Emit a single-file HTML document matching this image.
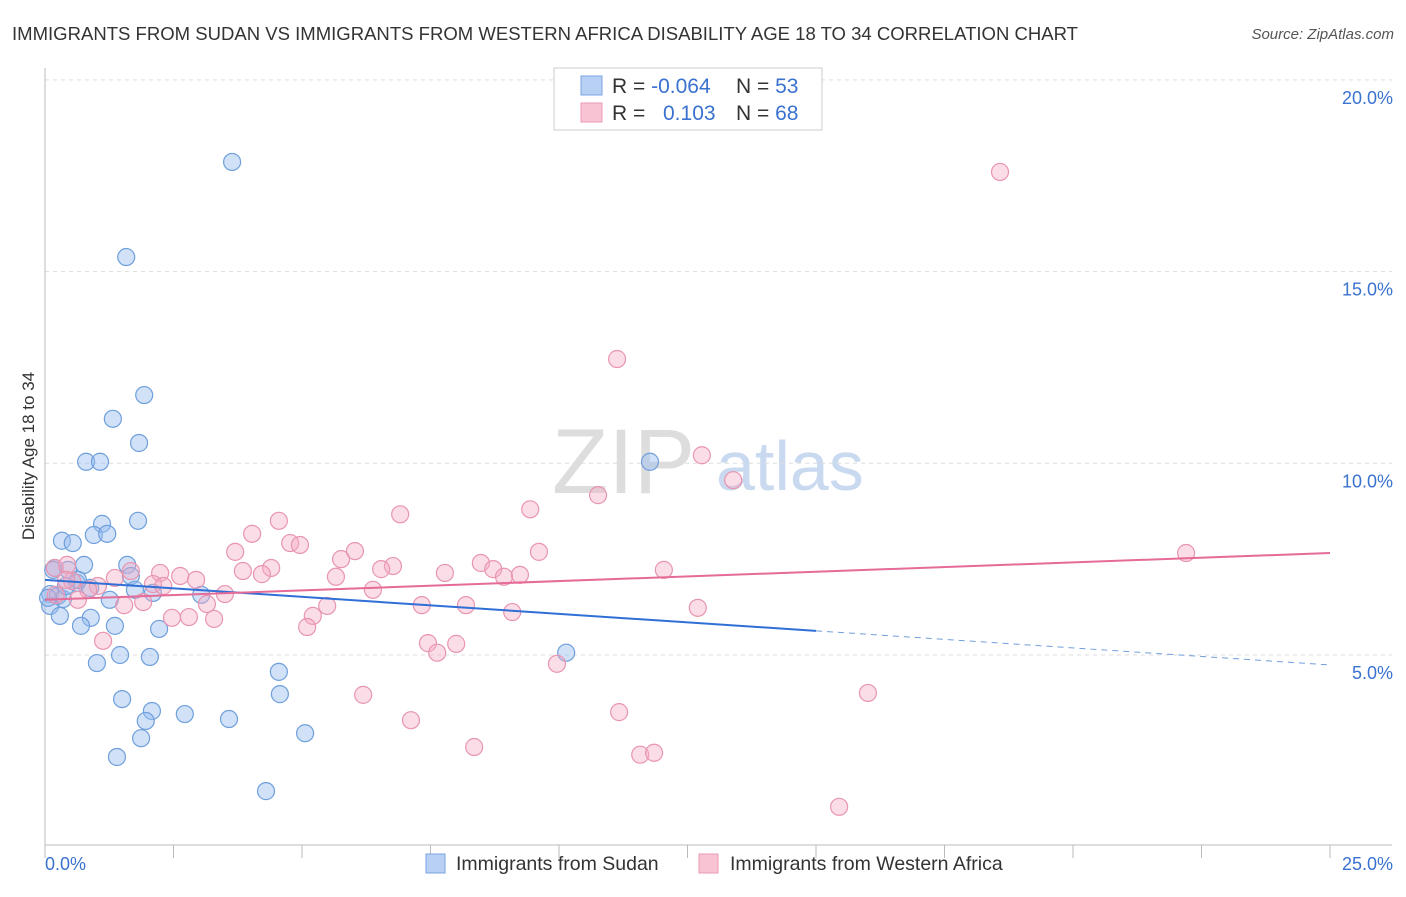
<!DOCTYPE html>
<html><head><meta charset="utf-8"><style>
body{margin:0;background:#fff;font-family:"Liberation Sans",sans-serif;}
svg text{font-family:"Liberation Sans",sans-serif;}
</style></head><body>
<svg id="chart" width="1406" height="892">
<text x="12" y="40" font-size="18.5" fill="#333" textLength="1066" lengthAdjust="spacingAndGlyphs">IMMIGRANTS FROM SUDAN VS IMMIGRANTS FROM WESTERN AFRICA DISABILITY AGE 18 TO 34 CORRELATION CHART</text>
<text x="1394" y="39" font-size="15" fill="#555" font-style="italic" text-anchor="end">Source: ZipAtlas.com</text>
<g>
<text x="552" y="493" font-size="92" font-family="Liberation Serif" fill="#ddd">ZIP</text>
<text x="716" y="490" font-size="70" fill="#c9daf0">atlas</text>
</g>
<g id="grid"></g><g id="axes"></g><g id="marks"></g>
<text x="34" y="456" font-size="17" fill="#333" text-anchor="middle" transform="rotate(-90 34 456)">Disability Age 18 to 34</text>
<g>
<rect x="554" y="68" width="268" height="62" fill="#fff" stroke="#ccc"/>
<rect x="581" y="76" width="21" height="19" fill="#b7d0f3" stroke="#7aa5e0"/>
<rect x="581" y="103" width="21" height="19" fill="#f8c4d3" stroke="#eb9ab4"/>
<text x="612" y="93" font-size="21" fill="#333">R = <tspan fill="#3a72d0">-0.064</tspan></text>
<text x="736" y="93" font-size="21" fill="#333">N = <tspan fill="#3a72d0">53</tspan></text>
<text x="612" y="120" font-size="21" fill="#333">R = <tspan fill="#3a72d0" x="663">0.103</tspan></text>
<text x="736" y="120" font-size="21" fill="#333">N = <tspan fill="#3a72d0">68</tspan></text>
</g>
<g>
<rect x="426" y="854" width="19" height="19" fill="#b7d0f3" stroke="#7aa5e0"/>
<text x="456" y="870" font-size="19.5" fill="#333">Immigrants from Sudan</text>
<rect x="699" y="854" width="19" height="19" fill="#f8c4d3" stroke="#eb9ab4"/>
<text x="730" y="870" font-size="19.5" fill="#333">Immigrants from Western Africa</text>
</g>
</svg>
<script>
const yTicks=[5,10,15,20];
const yTickLabels=["5.0%","10.0%","15.0%","20.0%"];
const xTickLabels=["0.0%","25.0%"];
const sudanX=[3.64,1.58,1.93,1.32,1.83,0.80,1.07,11.77,1.81,1.11,0.33,0.54,0.95,1.21,0.19,0.45,0.76,1.60,1.67,0.62,0.88,0.10,0.25,0.35,0.10,1.26,2.10,1.75,3.04,0.29,0.89,0.70,1.36,2.22,1.46,2.04,1.01,10.14,4.55,1.50,4.57,2.08,2.72,1.96,3.58,1.87,5.06,1.40,4.30,0.16,0.06,0.41,0.64];
const sudanY=[17.86,15.38,11.78,11.16,10.53,10.04,10.04,10.04,8.50,8.42,7.98,7.92,8.13,8.16,7.27,7.22,7.35,7.35,7.06,6.88,6.75,6.59,6.54,6.46,6.28,6.44,6.62,6.70,6.57,6.02,5.97,5.76,5.76,5.68,5.00,4.95,4.79,5.06,4.56,3.85,3.98,3.54,3.46,3.28,3.33,2.83,2.96,2.34,1.45,7.22,6.49,6.80,6.96];
const waX=[18.58,11.13,12.78,13.39,10.76,9.44,6.91,4.55,4.03,4.77,4.96,3.70,6.03,5.76,9.61,8.48,6.77,6.54,22.20,12.04,8.72,7.78,8.93,9.24,3.85,4.40,4.22,5.66,2.63,2.94,2.24,1.67,1.36,0.19,0.43,0.53,1.03,2.10,2.30,0.84,6.38,3.50,1.91,1.54,3.15,0.64,5.49,7.33,8.19,9.09,12.70,5.21,2.80,3.29,2.47,5.10,1.13,7.45,8.00,7.63,9.96,6.19,16.01,7.12,11.17,8.35,11.58,11.85,15.45,0.21,0.41];
const waY=[17.60,12.72,10.21,9.56,9.17,8.80,8.67,8.50,8.16,7.92,7.87,7.69,7.71,7.50,7.69,7.40,7.32,7.24,7.66,7.22,7.24,7.14,7.04,7.09,7.19,7.27,7.11,7.04,7.06,6.96,7.14,7.19,7.01,7.27,7.35,6.93,6.80,6.85,6.80,6.70,6.70,6.59,6.38,6.30,6.33,6.44,6.28,6.30,6.30,6.12,6.23,6.02,5.99,5.94,5.97,5.73,5.37,5.31,5.29,5.06,4.77,3.96,4.01,3.30,3.51,2.60,2.40,2.45,1.04,6.57,6.96];
const sudanTrend=[6.96,5.63,4.74]; // at x=0,15,25
const waTrend=[6.44,7.66]; // at x=0,25
const NS="http://www.w3.org/2000/svg";
const X=v=>45+v*51.4, Y=v=>846.7-v*38.34;
function mk(t,a,p){const e=document.createElementNS(NS,t);for(const k in a)e.setAttribute(k,a[k]);document.getElementById(p).appendChild(e);return e;}
yTicks.forEach((t,i)=>{
 const g=mk('line',{x1:45,x2:1392,y1:Y(t),y2:Y(t),stroke:'#ddd','stroke-dasharray':'4,4'},'grid');
 
 
 const l=mk('text',{x:1393,y:Y(t)+24,'font-size':18,fill:'#3a72d0','text-anchor':'end'},'axes');
 l.textContent=yTickLabels[i];
 
 
});
let a=mk('line',{x1:45,x2:45,y1:68,y2:845,stroke:'#bbb'},'axes');


a=mk('line',{x1:45,x2:1392,y1:845,y2:845,stroke:'#bbb'},'axes');


for(let i=0;i<=10;i++){const t=mk('line',{x1:X(i*2.5),x2:X(i*2.5),y1:845,y2:858,stroke:'#bbb'},'axes');
 
 }
[[0,'start',45],[1,'end',1393]].forEach(([i,anc,x])=>{const t=mk('text',{x:x,y:870,'font-size':18,fill:'#3a72d0','text-anchor':anc},'axes');t.textContent=xTickLabels[i];
 
 });
sudanX.forEach((v,i)=>{const c=mk('circle',{cx:X(v),cy:Y(sudanY[i]),r:8.5,fill:'rgba(150,188,240,0.45)',stroke:'#6f9fdc','stroke-width':1.2},'marks');
 
 });
waX.forEach((v,i)=>{const c=mk('circle',{cx:X(v),cy:Y(waY[i]),r:8.5,fill:'rgba(245,170,195,0.4)',stroke:'#e895b0','stroke-width':1.2},'marks');
 
 });
let l=mk('line',{x1:X(0),y1:Y(sudanTrend[0]),x2:X(15),y2:Y(sudanTrend[1]),stroke:'#2f6fd6','stroke-width':2},'marks');


l=mk('line',{x1:X(15),y1:Y(sudanTrend[1]),x2:X(25),y2:Y(sudanTrend[2]),stroke:'#6f9fdc','stroke-width':1,'stroke-dasharray':'6,5'},'marks');


l=mk('line',{x1:X(0),y1:Y(waTrend[0]),x2:X(25),y2:Y(waTrend[1]),stroke:'#e56b98','stroke-width':2},'marks');


</script>
</body></html>
